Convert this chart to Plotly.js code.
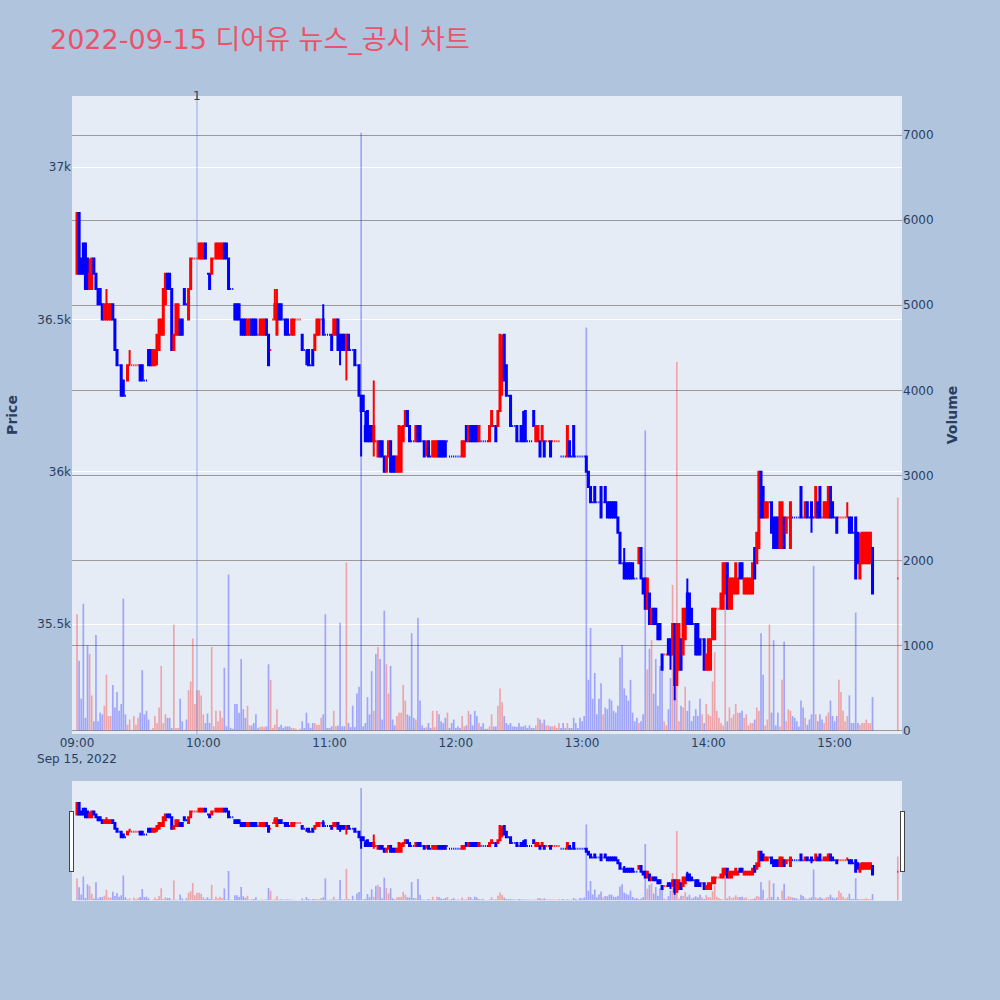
<!DOCTYPE html>
<html><head><meta charset="utf-8">
<script src="https://cdn.plot.ly/plotly-3.0.1.min.js"></script>
<style>html,body{margin:0;padding:0;background:#B0C4DE}</style>
</head><body><div id="chart" style="width:1000px;height:1000px"></div>
<script>
const tradeDate = '2022-09-15';
const chartTitle = '2022-09-15 디어유 뉴스_공시 차트';
const times = [
"09:00","09:01","09:02","09:03","09:04","09:05","09:06","09:07","09:08","09:09",
"09:10","09:11","09:12","09:13","09:14","09:15","09:16","09:17","09:18","09:19",
"09:20","09:21","09:22","09:23","09:24","09:25","09:26","09:27","09:28","09:29",
"09:30","09:31","09:32","09:33","09:34","09:35","09:36","09:37","09:38","09:39",
"09:40","09:41","09:42","09:43","09:44","09:45","09:46","09:47","09:48","09:49",
"09:50","09:51","09:52","09:53","09:54","09:55","09:56","09:57","09:58","09:59",
"10:00","10:01","10:02","10:03","10:04","10:05","10:06","10:07","10:08","10:09",
"10:10","10:11","10:12","10:13","10:14","10:15","10:16","10:17","10:18","10:19",
"10:20","10:21","10:22","10:23","10:24","10:25","10:26","10:27","10:28","10:29",
"10:30","10:31","10:32","10:33","10:34","10:35","10:36","10:37","10:38","10:39",
"10:40","10:41","10:42","10:43","10:44","10:45","10:46","10:47","10:48","10:49",
"10:50","10:51","10:52","10:53","10:54","10:55","10:56","10:57","10:58","10:59",
"11:00","11:01","11:02","11:03","11:04","11:05","11:06","11:07","11:08","11:09",
"11:10","11:11","11:12","11:13","11:14","11:15","11:16","11:17","11:18","11:19",
"11:20","11:21","11:22","11:23","11:24","11:25","11:26","11:27","11:28","11:29",
"11:30","11:31","11:32","11:33","11:34","11:35","11:36","11:37","11:38","11:39",
"11:40","11:41","11:42","11:43","11:44","11:45","11:46","11:47","11:48","11:49",
"11:50","11:51","11:52","11:53","11:54","11:55","11:56","11:57","11:58","11:59",
"12:00","12:01","12:02","12:03","12:04","12:05","12:06","12:07","12:08","12:09",
"12:10","12:11","12:12","12:13","12:14","12:15","12:16","12:17","12:18","12:19",
"12:20","12:21","12:22","12:23","12:24","12:25","12:26","12:27","12:28","12:29",
"12:30","12:31","12:32","12:33","12:34","12:35","12:36","12:37","12:38","12:39",
"12:40","12:41","12:42","12:43","12:44","12:45","12:46","12:47","12:48","12:49",
"12:50","12:51","12:52","12:53","12:54","12:55","12:56","12:57","12:58","12:59",
"13:00","13:01","13:02","13:03","13:04","13:05","13:06","13:07","13:08","13:09",
"13:10","13:11","13:12","13:13","13:14","13:15","13:16","13:17","13:18","13:19",
"13:20","13:21","13:22","13:23","13:24","13:25","13:26","13:27","13:28","13:29",
"13:30","13:31","13:32","13:33","13:34","13:35","13:36","13:37","13:38","13:39",
"13:40","13:41","13:42","13:43","13:44","13:45","13:46","13:47","13:48","13:49",
"13:50","13:51","13:52","13:53","13:54","13:55","13:56","13:57","13:58","13:59",
"14:00","14:01","14:02","14:03","14:04","14:05","14:06","14:07","14:08","14:09",
"14:10","14:11","14:12","14:13","14:14","14:15","14:16","14:17","14:18","14:19",
"14:20","14:21","14:22","14:23","14:24","14:25","14:26","14:27","14:28","14:29",
"14:30","14:31","14:32","14:33","14:34","14:35","14:36","14:37","14:38","14:39",
"14:40","14:41","14:42","14:43","14:44","14:45","14:46","14:47","14:48","14:49",
"14:50","14:51","14:52","14:53","14:54","14:55","14:56","14:57","14:58","14:59",
"15:00","15:01","15:02","15:03","15:04","15:05","15:06","15:07","15:08","15:09",
"15:10","15:11","15:12","15:13","15:14","15:15","15:16","15:17","15:18",
"15:30"];
const openPrice = [
36650,36850,36700,36750,36750,36700,36600,36600,36700,36650,
36600,36600,36550,36500,36500,36500,36500,36550,36500,36400,
36350,36350,36300,36250,36300,36350,36350,36350,36350,36350,
36350,36350,36300,36300,36400,36400,36350,36350,36400,36400,
36450,36450,36550,36650,36650,36600,36400,36450,36450,36500,
36500,36600,36550,36500,36600,36700,36700,36700,36700,36700,
36700,36750,36650,36650,36650,36700,36700,36700,36700,36700,
36750,36750,36700,36600,36600,36550,36550,36550,36500,36500,
36500,36450,36450,36500,36500,36500,36450,36450,36450,36450,
36500,36450,36400,36500,36500,36450,36550,36550,36500,36500,
36500,36450,36450,36450,36500,36500,36500,36450,36400,36400,
36400,36350,36400,36400,36450,36450,36500,36500,36450,36450,
36450,36450,36450,36450,36500,36450,36450,36450,36400,36450,
36400,36400,36400,36350,36350,36250,36250,36150,36200,36150,
36150,36100,36100,36050,36100,36100,36050,36000,36050,36100,
36050,36050,36000,36000,36000,36100,36150,36200,36150,36100,
36100,36100,36150,36150,36100,36100,36100,36100,36050,36050,
36050,36050,36100,36100,36100,36100,36100,36050,36050,36050,
36050,36050,36050,36050,36050,36150,36100,36150,36150,36150,
36150,36100,36100,36100,36100,36100,36100,36150,36150,36150,
36150,36200,36300,36450,36350,36250,36250,36150,36150,36150,
36100,36150,36150,36200,36100,36100,36100,36200,36100,36100,
36100,36100,36100,36100,36100,36100,36100,36100,36100,36100,
36050,36050,36050,36050,36100,36050,36150,36050,36050,36050,
36050,36050,36050,36000,35950,35900,35950,35900,35900,35950,
35900,35950,35900,35900,35900,35900,35900,35850,35800,35700,
35700,35700,35700,35700,35700,35650,35650,35700,35750,35650,
35650,35550,35600,35500,35550,35550,35500,35500,35400,35400,
35400,35450,35450,35400,35500,35300,35350,35450,35400,35450,
35600,35600,35550,35500,35500,35500,35450,35450,35450,35350,
35350,35350,35450,35450,35550,35550,35550,35550,35600,35700,
35550,35550,35600,35600,35600,35700,35700,35600,35600,35600,
35600,35600,35750,35700,35750,36000,35950,35850,35850,35900,
35900,35850,35850,35850,35750,35750,35850,35800,35850,35750,
35850,35850,35850,35850,35950,35850,35850,35900,35850,35900,
35850,35850,35900,35950,35850,35850,35850,35850,35950,35900,
35850,35850,35850,35850,35850,35850,35850,35850,35850,35800,
35850,35800,35650,35700,35700,35700,35700,35700,35750,
35650];
const highPrice = [
36850,36850,36700,36750,36750,36700,36700,36700,36700,36650,
36600,36600,36550,36550,36600,36550,36550,36550,36500,36400,
36350,36350,36300,36250,36350,36400,36350,36350,36350,36350,
36350,36350,36300,36300,36400,36400,36400,36400,36450,36500,
36500,36600,36650,36650,36650,36600,36450,36550,36550,36500,
36500,36600,36550,36600,36700,36700,36700,36700,36750,36750,
36750,36750,36650,36650,36700,36700,36750,36750,36750,36750,
36750,36750,36700,36600,36600,36550,36550,36550,36500,36500,
36500,36500,36500,36500,36500,36500,36450,36500,36500,36500,
36500,36450,36400,36500,36600,36600,36550,36550,36500,36500,
36500,36450,36500,36500,36500,36500,36500,36450,36400,36400,
36400,36350,36400,36450,36500,36500,36500,36550,36450,36450,
36450,36450,36500,36500,36500,36450,36450,36450,36450,36450,
36400,36400,36400,36350,36350,36250,36250,36200,36200,36150,
36150,36300,36100,36100,36100,36100,36050,36050,36100,36100,
36050,36050,36050,36150,36150,36150,36200,36200,36150,36100,
36100,36150,36150,36150,36100,36100,36100,36100,36050,36100,
36100,36100,36100,36100,36100,36100,36100,36050,36050,36050,
36050,36050,36050,36100,36100,36150,36150,36150,36150,36150,
36150,36150,36100,36100,36100,36100,36150,36200,36150,36150,
36200,36450,36450,36450,36350,36250,36250,36150,36150,36150,
36100,36150,36200,36200,36100,36100,36100,36200,36150,36150,
36100,36150,36100,36100,36100,36100,36100,36100,36100,36100,
36050,36050,36050,36150,36100,36050,36150,36050,36050,36050,
36050,36050,36050,36000,35950,35900,35950,35900,35900,35950,
35900,35950,35900,35900,35900,35900,35900,35850,35800,35700,
35750,35700,35700,35700,35700,35650,35650,35750,35750,35650,
35650,35650,35600,35550,35550,35550,35500,35500,35400,35400,
35400,35450,35450,35500,35500,35500,35500,35450,35550,35550,
35650,35600,35550,35500,35500,35500,35450,35450,35450,35400,
35450,35450,35550,35550,35550,35550,35600,35700,35700,35700,
35650,35650,35650,35700,35650,35700,35700,35650,35650,35650,
35650,35700,35750,35800,36000,36000,35950,35900,35900,35900,
35900,35850,35850,35850,35900,35900,35850,35850,35850,35900,
35850,35850,35850,35850,35950,35850,35900,35900,35850,35900,
35850,35950,35900,35950,35850,35900,35900,35950,35950,35900,
35850,35850,35850,35850,35850,35850,35900,35850,35850,35800,
35850,35800,35800,35800,35800,35800,35800,35800,35750,
35650];
const lowPrice = [
36650,36650,36650,36650,36600,36600,36600,36600,36650,36600,
36550,36550,36500,36500,36500,36500,36500,36500,36400,36350,
36350,36250,36250,36250,36300,36350,36350,36350,36350,36350,
36300,36300,36300,36300,36350,36350,36350,36350,36350,36400,
36450,36450,36550,36600,36600,36400,36400,36450,36450,36450,
36450,36550,36550,36500,36600,36700,36700,36700,36700,36700,
36700,36700,36650,36600,36650,36700,36700,36700,36700,36700,
36700,36700,36600,36600,36600,36500,36500,36500,36450,36450,
36450,36450,36450,36450,36450,36450,36450,36450,36450,36450,
36450,36350,36400,36500,36500,36450,36500,36500,36500,36450,
36450,36450,36450,36450,36500,36500,36500,36400,36400,36350,
36350,36350,36350,36400,36450,36450,36500,36450,36450,36450,
36450,36400,36450,36450,36400,36350,36400,36400,36300,36400,
36400,36400,36350,36350,36250,36050,36200,36100,36100,36100,
36100,36050,36100,36050,36050,36050,36000,36000,36050,36000,
36000,36000,36000,36000,36000,36100,36150,36150,36100,36100,
36100,36100,36100,36100,36100,36050,36050,36050,36050,36050,
36050,36050,36050,36050,36050,36050,36100,36050,36050,36050,
36050,36050,36050,36050,36050,36100,36100,36100,36100,36100,
36100,36100,36100,36100,36100,36100,36100,36150,36150,36100,
36150,36200,36250,36300,36250,36250,36150,36150,36150,36100,
36100,36100,36100,36100,36100,36100,36100,36150,36100,36100,
36050,36100,36050,36100,36100,36050,36100,36100,36100,36100,
36050,36050,36050,36050,36050,36050,36050,36050,36050,36050,
36050,36050,36000,35950,35900,35900,35900,35900,35900,35850,
35900,35900,35850,35850,35850,35850,35850,35800,35700,35700,
35650,35650,35650,35650,35650,35650,35650,35700,35650,35600,
35550,35550,35500,35500,35500,35500,35450,35450,35350,35400,
35400,35400,35350,35400,35250,35300,35350,35350,35400,35450,
35500,35500,35500,35500,35400,35400,35400,35450,35350,35350,
35350,35350,35450,35450,35550,35550,35550,35550,35600,35550,
35550,35550,35600,35600,35600,35650,35650,35600,35600,35600,
35600,35600,35650,35700,35750,35850,35850,35850,35850,35900,
35800,35750,35750,35750,35750,35750,35750,35800,35850,35750,
35850,35850,35850,35850,35850,35850,35850,35850,35850,35800,
35850,35850,35850,35850,35850,35850,35850,35850,35850,35850,
35850,35800,35850,35850,35850,35850,35850,35800,35800,35800,
35650,35700,35650,35700,35700,35700,35700,35700,35600,
35650];
const closePrice = [
36850,36650,36650,36650,36600,36600,36650,36700,36650,36600,
36550,36550,36500,36550,36550,36550,36550,36500,36400,36350,
36350,36250,36250,36250,36350,36350,36350,36350,36350,36350,
36300,36300,36300,36300,36350,36350,36400,36400,36450,36500,
36500,36600,36650,36600,36600,36400,36450,36550,36550,36450,
36450,36550,36550,36600,36700,36700,36700,36700,36750,36750,
36750,36700,36650,36600,36700,36700,36750,36750,36750,36750,
36700,36700,36600,36600,36600,36500,36500,36500,36450,36450,
36450,36500,36500,36450,36450,36450,36450,36500,36500,36500,
36450,36350,36400,36500,36550,36550,36500,36500,36500,36450,
36450,36450,36500,36500,36500,36500,36500,36400,36400,36400,
36350,36350,36350,36450,36500,36500,36500,36450,36450,36450,
36450,36400,36500,36500,36400,36400,36400,36400,36450,36400,
36400,36400,36350,36350,36250,36200,36200,36100,36100,36100,
36100,36150,36100,36100,36050,36050,36000,36050,36100,36000,
36000,36000,36050,36150,36100,36150,36200,36150,36100,36100,
36100,36150,36100,36100,36100,36050,36100,36050,36050,36100,
36100,36100,36050,36050,36050,36050,36100,36050,36050,36050,
36050,36050,36050,36100,36100,36100,36150,36100,36100,36100,
36100,36150,36100,36100,36100,36100,36150,36200,36150,36100,
36200,36450,36400,36300,36250,36250,36150,36150,36150,36100,
36100,36100,36100,36100,36100,36100,36100,36150,36150,36150,
36050,36150,36050,36100,36100,36050,36100,36100,36100,36100,
36050,36050,36050,36150,36050,36050,36050,36050,36050,36050,
36050,36050,36000,35950,35900,35900,35900,35900,35900,35850,
35900,35900,35850,35850,35850,35850,35850,35800,35700,35700,
35650,35650,35650,35650,35650,35650,35650,35750,35650,35600,
35550,35650,35500,35550,35500,35500,35450,35450,35350,35400,
35400,35400,35400,35500,35300,35500,35500,35350,35550,35550,
35500,35500,35500,35500,35400,35400,35400,35450,35350,35400,
35450,35450,35550,35550,35550,35550,35600,35700,35700,35550,
35650,35650,35650,35700,35650,35650,35650,35650,35650,35650,
35650,35700,35650,35800,36000,35850,35850,35900,35900,35900,
35800,35750,35750,35750,35900,35900,35750,35850,35850,35900,
35850,35850,35850,35850,35850,35850,35900,35850,35850,35850,
35850,35950,35850,35850,35850,35900,35900,35950,35850,35850,
35850,35800,35850,35850,35850,35850,35850,35800,35800,35800,
35650,35700,35700,35800,35800,35800,35800,35800,35600,
35650];
const volume = [
1368,820,373,1490,149,1002,901,413,109,1124,
109,210,190,291,657,170,170,535,271,454,
231,312,1551,190,68,129,7,170,68,149,
210,710,190,231,129,7,30,170,88,271,
759,88,190,149,149,30,1246,30,30,373,
109,7,129,474,576,1083,312,474,474,413,
190,88,200,88,982,50,231,109,231,149,
738,50,1835,30,20,312,312,210,840,251,
149,291,60,60,88,190,27,40,48,40,
48,779,596,30,68,251,40,68,30,48,
48,48,30,30,20,7,20,109,30,210,
88,30,88,88,68,68,149,190,1368,30,
30,50,231,50,60,1266,50,50,1977,88,
40,291,40,434,515,7030,50,88,393,190,
698,231,901,982,840,129,1409,779,434,759,
129,60,170,210,210,535,352,190,170,1144,
149,129,1327,352,60,30,40,88,30,231,
40,231,190,109,88,149,210,30,88,129,
30,48,30,170,48,60,231,190,60,231,
170,88,48,88,20,20,48,190,48,48,
291,495,332,170,88,68,88,48,48,40,
88,48,48,60,30,60,30,30,60,149,
129,88,129,60,60,48,48,60,30,88,
30,88,30,88,30,30,149,88,30,149,
109,170,4739,596,1206,373,677,190,373,556,
190,271,251,373,352,231,210,291,860,1002,
495,413,352,596,210,109,150,88,109,190,
3529,718,962,1063,434,840,291,759,881,109,
60,251,617,1713,373,4333,109,291,271,515,
231,352,109,170,251,170,373,190,88,312,
190,170,576,921,231,149,88,60,1977,109,
271,149,190,312,210,210,231,149,190,60,
88,88,129,271,231,1144,657,60,129,1246,
210,1063,60,210,48,596,1043,109,251,231,
170,149,109,48,352,271,149,68,129,190,
1936,190,109,190,129,88,170,210,352,170,
109,170,596,454,231,109,170,413,88,88,
1388,88,68,88,88,129,88,88,393,
2740];
const newsTimes = ['09:57'];
const newsLabels = ['1'];
const xRange = ['2022-09-15 08:57:37', '2022-09-15 15:32:00'];
const priceRange = [35139, 37234];
const volumeRange = [-41, 7461];

const x = times.map(t => tradeDate + ' ' + t);
// colour the volume bars the way plotly colours the candles
const volColors = [];
let prevC = null, inc = true;
for (let i = 0; i < closePrice.length; i++) {
  const o = openPrice[i], c = closePrice[i];
  if (c > o) inc = true;
  else if (c < o) inc = false;
  else if (prevC === null) inc = true;
  else if (c !== prevC) inc = c > prevC;
  volColors.push(inc ? 'red' : 'blue');
  prevC = c;
}

const candle = {
  type: 'candlestick', x: x, open: openPrice, high: highPrice, low: lowPrice, close: closePrice,
  increasing: {line: {color: 'red'}, fillcolor: 'red'},
  decreasing: {line: {color: 'blue'}, fillcolor: 'blue'},
  yaxis: 'y', name: 'Price', showlegend: false
};
const bars = {
  type: 'bar', x: x, y: volume, yaxis: 'y2', name: 'Volume',
  marker: {color: volColors, opacity: 0.3, line: {width: 0}}, showlegend: false
};
const fontFam = 'Verdana, "DejaVu Sans", "Noto Sans CJK KR", sans-serif';
const layout = {
  width: 1000, height: 1000,
  paper_bgcolor: '#B0C4DE', plot_bgcolor: '#E5ECF6',
  font: {family: fontFam, size: 12, color: '#2a3f5f'},
  title: {text: chartTitle, x: 0.05, xanchor: 'left', y: 0.96, yanchor: 'middle', yref: 'container',
          font: {family: fontFam, size: 27, color: '#EB5369'}},
  margin: {l: 72, r: 98, t: 96, b: 100},
  showlegend: false,
  hovermode: false,
  xaxis: {type: 'date', range: xRange, showgrid: false, zeroline: false,
          rangeslider: {visible: true, thickness: 0.149, bgcolor: '#E5ECF6', borderwidth: 0, range: xRange}},
  yaxis: {title: {text: 'Price', font: {size: 14, weight: 'bold'}, standoff: 16}, range: priceRange,
          gridcolor: 'white', zeroline: false, side: 'left'},
  yaxis2: {title: {text: 'Volume', font: {size: 14, weight: 'bold'}, standoff: 14}, range: volumeRange,
           overlaying: 'y', side: 'right', showgrid: true, gridcolor: '#9a9a9a', zeroline: false},
  shapes: newsTimes.map(t => ({type: 'line', xref: 'x', yref: 'paper', x0: tradeDate + ' ' + t, x1: tradeDate + ' ' + t,
                               y0: 0, y1: 1, line: {color: 'rgba(65,105,225,0.5)', width: 1}})),
  annotations: newsTimes.map((t, i) => ({xref: 'x', yref: 'paper', x: tradeDate + ' ' + t, y: 1, yanchor: 'middle',
                               text: newsLabels[i], showarrow: false, font: {size: 12, color: '#2a3f5f'}}))
};
Plotly.newPlot('chart', [candle, bars], layout, {displayModeBar: false, staticPlot: true});
</script>
</body></html>
